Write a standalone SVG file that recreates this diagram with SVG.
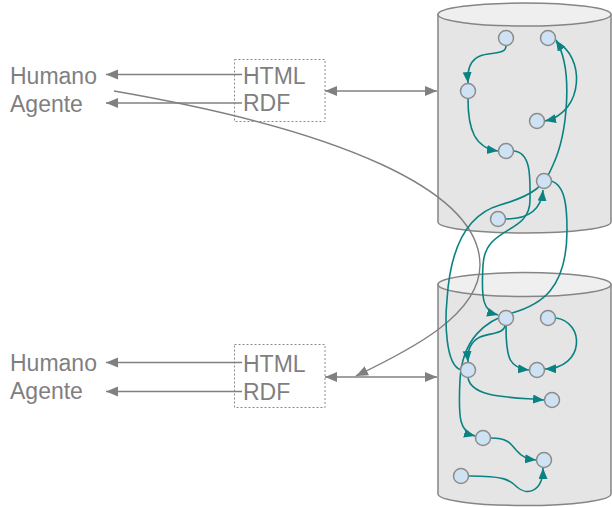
<svg xmlns="http://www.w3.org/2000/svg" width="612" height="507" viewBox="0 0 612 507">
  <style>
    .lbl { font-family: "Liberation Sans", Arial, sans-serif; font-size: 23px; fill: #7f7f7f; }
    .cyl-body { fill: #e5e5e5; stroke: #858585; stroke-width: 1.5; }
    .cyl-top { fill: #efefef; stroke: #858585; stroke-width: 1.5; }
    .box { fill: none; stroke: #8a8a8a; stroke-width: 1; stroke-dasharray: 2 2; }
    .gray { fill: none; stroke: #808080; stroke-width: 1.4; }
    .teal { fill: none; stroke: #0b8282; stroke-width: 1.6; }
    .node { fill: #cfe2f3; stroke: #8c8c8c; stroke-width: 1.5; }
  </style>
  <defs>
    <marker id="ag" markerUnits="userSpaceOnUse" markerWidth="13" markerHeight="11" refX="12" refY="5" orient="auto-start-reverse">
      <path d="M0,0 L12,5 L0,10 z" fill="#808080"/>
    </marker>
    <marker id="at" markerUnits="userSpaceOnUse" markerWidth="12" markerHeight="10" refX="11" refY="4.5" orient="auto">
      <path d="M0,0 L11,4.5 L0,9 z" fill="#0b8282"/>
    </marker>
  </defs>

  <!-- databases -->
  <g id="db-top">
    <path class="cyl-body" d="M438,14.5 L438,222 A86.5,11 0 0 0 611,222 L611,14.5 z"/>
    <ellipse class="cyl-top" cx="524.5" cy="14.5" rx="86.5" ry="11.5"/>
  </g>
  <g id="db-bottom">
    <path class="cyl-body" d="M438,284.5 L438,494 A86.5,11.5 0 0 0 611,494 L611,284.5 z"/>
    <ellipse class="cyl-top" cx="524.5" cy="284.5" rx="86.5" ry="12"/>
  </g>

  <!-- content negotiation boxes -->
  <g id="neg-top">
    <rect class="box" x="234.5" y="59.5" width="90.5" height="62"/>
    <text class="lbl" x="243" y="83.5">HTML</text>
    <text class="lbl" x="243" y="111">RDF</text>
  </g>
  <g id="neg-bottom">
    <rect class="box" x="234.5" y="344.5" width="90.5" height="63"/>
    <text class="lbl" x="243" y="372">HTML</text>
    <text class="lbl" x="243" y="399.5">RDF</text>
  </g>

  <!-- clients -->
  <g id="clients-top">
    <text class="lbl" x="10" y="84">Humano</text>
    <text class="lbl" x="10" y="112">Agente</text>
  </g>
  <g id="clients-bottom">
    <text class="lbl" x="10" y="371">Humano</text>
    <text class="lbl" x="10" y="399">Agente</text>
  </g>

  <!-- gray connectors -->
  <g id="gray-connectors">
    <line class="gray" x1="242" y1="74.5" x2="106" y2="74.5" marker-end="url(#ag)"/>
    <line class="gray" x1="242" y1="103" x2="106" y2="103" marker-end="url(#ag)"/>
    <line class="gray" x1="242" y1="362.5" x2="106" y2="362.5" marker-end="url(#ag)"/>
    <line class="gray" x1="242" y1="391.5" x2="106" y2="391.5" marker-end="url(#ag)"/>
    <line class="gray" x1="325" y1="91" x2="437" y2="91" marker-start="url(#ag)" marker-end="url(#ag)"/>
    <line class="gray" x1="325" y1="377" x2="437" y2="377" marker-start="url(#ag)" marker-end="url(#ag)"/>
    <path class="gray" d="M114,91 C340,130 480,190 480,265 C480,315 410,350 356,376" marker-end="url(#ag)"/>
  </g>

  <!-- links between resources -->
  <g id="links">
    <path class="teal" d="M506,46 C506,55 490,52 480,56 C470,60 467,70 468,83" marker-end="url(#at)"/>
    <path class="teal" d="M468,99 C468,130 475,148 498,151" marker-end="url(#at)"/>
    <path class="teal" d="M556,42 C585,55 585,112 545,121" marker-end="url(#at)"/>
    <path class="teal" d="M461,370 C445,365 445,320 447,300 C450,250 465,215 500,205 C535,195 545,185 553,165 C567,135 574,70 556,40" marker-end="url(#at)"/>
    <path class="teal" d="M514,151 C532,153 530,180 530,200 C530,235 485,225 483,265 C481,300 483,311 498,315" marker-end="url(#at)"/>
    <path class="teal" d="M506,219 C525,219 541,212 543,190" marker-end="url(#at)"/>
    <path class="teal" d="M551,181 C566,185 567,210 567,230 C567,290 540,305 512,313 C485,320 462,340 460,380 C458,420 460,432 475,436" marker-end="url(#at)"/>
    <path class="teal" d="M505,326 C503,334 490,333 480,337 C470,342 467,350 468,362" marker-end="url(#at)"/>
    <path class="teal" d="M506,326 C506,360 510,368 529,370" marker-end="url(#at)"/>
    <path class="teal" d="M556,318 C585,322 585,368 545,369" marker-end="url(#at)"/>
    <path class="teal" d="M468,378 C472,398 510,397 544,400" marker-end="url(#at)"/>
    <path class="teal" d="M491,438 C510,438 512,446 517,451 C522,457 527,459 536,460" marker-end="url(#at)"/>
    <path class="teal" d="M469,476 C505,476 510,480 517,487 C527,496 543,492 543,468" marker-end="url(#at)"/>
  </g>

  <!-- resources, upper database -->
  <g id="n1"><circle class="node" cx="506" cy="38" r="7.5"/></g>
  <g id="n2"><circle class="node" cx="548" cy="38" r="7.5"/></g>
  <g id="n3"><circle class="node" cx="468" cy="91" r="7.5"/></g>
  <g id="n4"><circle class="node" cx="537" cy="121" r="7.5"/></g>
  <g id="n5"><circle class="node" cx="506" cy="151" r="7.5"/></g>
  <g id="n6"><circle class="node" cx="544" cy="181" r="7.5"/></g>
  <g id="n7"><circle class="node" cx="498" cy="219" r="7.5"/></g>

  <!-- resources, lower database -->
  <g id="m1"><circle class="node" cx="506" cy="318" r="7.5"/></g>
  <g id="m2"><circle class="node" cx="548" cy="318" r="7.5"/></g>
  <g id="m3"><circle class="node" cx="468" cy="370" r="7.5"/></g>
  <g id="m4"><circle class="node" cx="537" cy="370" r="7.5"/></g>
  <g id="m5"><circle class="node" cx="552" cy="400" r="7.5"/></g>
  <g id="m6"><circle class="node" cx="483" cy="438" r="7.5"/></g>
  <g id="m7"><circle class="node" cx="544" cy="460" r="7.5"/></g>
  <g id="m8"><circle class="node" cx="461" cy="476" r="7.5"/></g>
</svg>
